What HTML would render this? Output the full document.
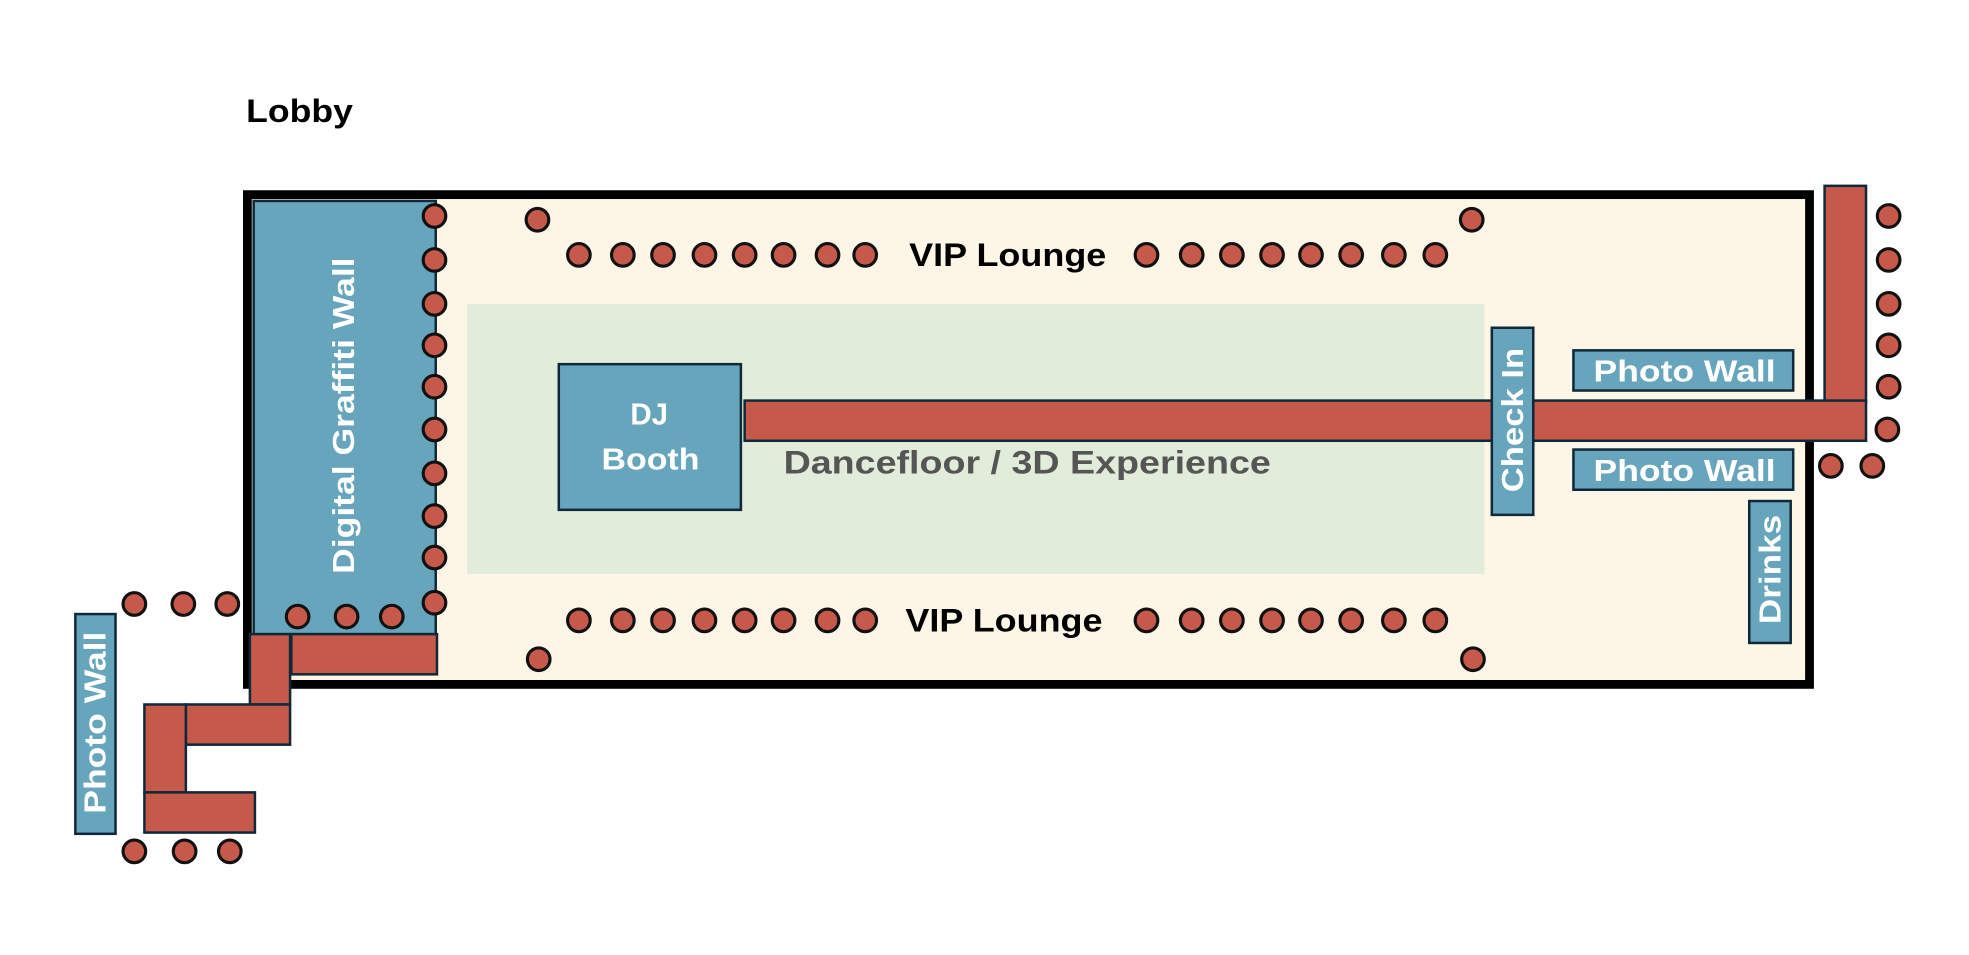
<!DOCTYPE html>
<html><head><style>html,body{margin:0;padding:0;background:#fff;width:1969px;height:955px;overflow:hidden}svg{display:block}text{font-family:"Liberation Sans",sans-serif;font-weight:bold}</style></head>
<body>
<svg width="1969" height="955" viewBox="0 0 1568 760.5" preserveAspectRatio="none" xmlns="http://www.w3.org/2000/svg">
<g stroke="#10293a" stroke-width="2">
<rect x="197" y="155" width="1244" height="390" fill="#fdf6e6" stroke="#000" stroke-width="7"/>
<rect x="372" y="242" width="810" height="215" fill="#e2ecda" stroke="none"/>
<rect x="202" y="160" width="145" height="345" fill="#67a5bc"/>
<rect x="445" y="290" width="145" height="116" fill="#67a5bc"/>
<rect x="1453" y="148" width="33" height="172" fill="#c65a4a"/>
<rect x="593" y="319" width="893" height="32" fill="#c65a4a"/>
<rect x="1188" y="261" width="33" height="149" fill="#67a5bc"/>
<rect x="1253" y="279" width="175" height="32" fill="#67a5bc"/>
<rect x="1253" y="358" width="175" height="32" fill="#67a5bc"/>
<rect x="1393" y="399" width="33" height="113" fill="#67a5bc"/>
<rect x="232" y="505" width="116" height="32" fill="#c65a4a"/>
<rect x="199" y="505" width="32" height="56" fill="#c65a4a"/>
<rect x="148" y="561" width="83" height="32" fill="#c65a4a"/>
<rect x="115" y="561" width="33" height="70" fill="#c65a4a"/>
<rect x="115" y="631" width="88" height="32" fill="#c65a4a"/>
<rect x="60" y="489" width="32" height="175" fill="#67a5bc"/>
</g>
<g fill="#c65a4a" stroke="#111" stroke-width="2.5">
<circle cx="346" cy="172" r="9"/><circle cx="346" cy="207" r="9"/><circle cx="346" cy="242" r="9"/><circle cx="346" cy="275" r="9"/><circle cx="346" cy="308" r="9"/><circle cx="346" cy="342" r="9"/><circle cx="346" cy="377" r="9"/><circle cx="346" cy="411" r="9"/><circle cx="346" cy="444" r="9"/><circle cx="346" cy="480" r="9"/>
<circle cx="428" cy="175" r="9"/><circle cx="1172" cy="175" r="9"/>
<circle cx="461" cy="203" r="9"/><circle cx="496" cy="203" r="9"/><circle cx="528" cy="203" r="9"/><circle cx="561" cy="203" r="9"/><circle cx="593" cy="203" r="9"/><circle cx="624" cy="203" r="9"/><circle cx="659" cy="203" r="9"/><circle cx="689" cy="203" r="9"/>
<circle cx="913" cy="203" r="9"/><circle cx="949" cy="203" r="9"/><circle cx="981" cy="203" r="9"/><circle cx="1013" cy="203" r="9"/><circle cx="1044" cy="203" r="9"/><circle cx="1076" cy="203" r="9"/><circle cx="1110" cy="203" r="9"/><circle cx="1143" cy="203" r="9"/>
<circle cx="461" cy="494" r="9"/><circle cx="496" cy="494" r="9"/><circle cx="528" cy="494" r="9"/><circle cx="561" cy="494" r="9"/><circle cx="593" cy="494" r="9"/><circle cx="624" cy="494" r="9"/><circle cx="659" cy="494" r="9"/><circle cx="689" cy="494" r="9"/>
<circle cx="913" cy="494" r="9"/><circle cx="949" cy="494" r="9"/><circle cx="981" cy="494" r="9"/><circle cx="1013" cy="494" r="9"/><circle cx="1044" cy="494" r="9"/><circle cx="1076" cy="494" r="9"/><circle cx="1110" cy="494" r="9"/><circle cx="1143" cy="494" r="9"/>
<circle cx="429" cy="525" r="9"/><circle cx="1173" cy="525" r="9"/>
<circle cx="1504" cy="172" r="9"/><circle cx="1504" cy="207" r="9"/><circle cx="1504" cy="242" r="9"/><circle cx="1504" cy="275" r="9"/><circle cx="1504" cy="308" r="9"/><circle cx="1503" cy="342" r="9"/>
<circle cx="1458" cy="371" r="9"/><circle cx="1491" cy="371" r="9"/>
<circle cx="107" cy="481" r="9"/><circle cx="146" cy="481" r="9"/><circle cx="181" cy="481" r="9"/>
<circle cx="237" cy="491" r="9"/><circle cx="276" cy="491" r="9"/><circle cx="312" cy="491" r="9"/>
<circle cx="107" cy="678" r="9"/><circle cx="147" cy="678" r="9"/><circle cx="183" cy="678" r="9"/>
</g>
<text x="196" y="97" font-size="26" fill="#000" textLength="85" lengthAdjust="spacingAndGlyphs">Lobby</text>
<text x="724" y="212" font-size="26" fill="#000" textLength="157" lengthAdjust="spacingAndGlyphs">VIP Lounge</text>
<text x="721" y="503" font-size="26" fill="#000" textLength="157" lengthAdjust="spacingAndGlyphs">VIP Lounge</text>
<text x="624" y="377" font-size="26" fill="#555" textLength="388" lengthAdjust="spacingAndGlyphs">Dancefloor / 3D Experience</text>
<text x="502" y="338" font-size="24" fill="#fff" textLength="30" lengthAdjust="spacingAndGlyphs">DJ</text>
<text x="479" y="374" font-size="24" fill="#fff" textLength="78" lengthAdjust="spacingAndGlyphs">Booth</text>
<text x="1269" y="304" font-size="24" fill="#fff" textLength="145" lengthAdjust="spacingAndGlyphs">Photo Wall</text>
<text x="1269" y="383" font-size="24" fill="#fff" textLength="145" lengthAdjust="spacingAndGlyphs">Photo Wall</text>
<text transform="translate(282,457) rotate(-90)" font-size="24" fill="#fff" textLength="252" lengthAdjust="spacingAndGlyphs">Digital Graffiti Wall</text>
<text transform="translate(1213,392) rotate(-90)" font-size="24" fill="#fff" textLength="115" lengthAdjust="spacingAndGlyphs">Check In</text>
<text transform="translate(1418,497) rotate(-90)" font-size="24" fill="#fff" textLength="87" lengthAdjust="spacingAndGlyphs">Drinks</text>
<text transform="translate(84,648) rotate(-90)" font-size="24" fill="#fff" textLength="145" lengthAdjust="spacingAndGlyphs">Photo Wall</text>
</svg>
</body></html>
